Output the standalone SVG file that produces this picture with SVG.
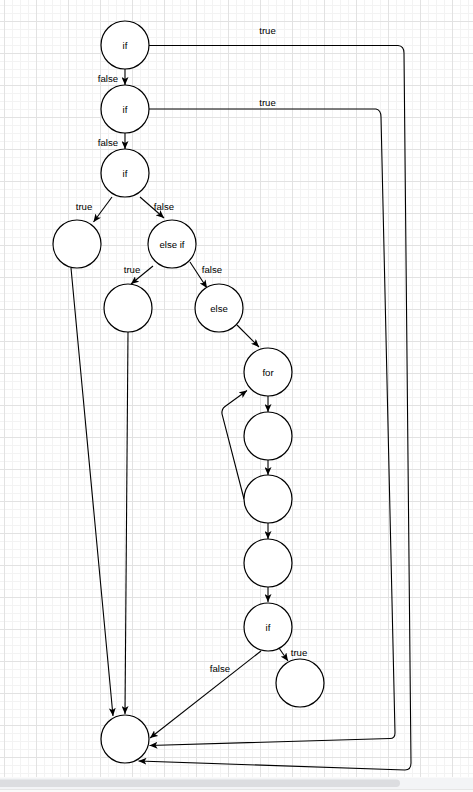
<svg xmlns="http://www.w3.org/2000/svg" width="473" height="792" viewBox="0 0 473 792">
<style>
.n{fill:#fff;stroke:#000;stroke-width:1.2}
.t{font-family:"Liberation Sans",Arial,sans-serif;font-size:9.6px;fill:#000;text-anchor:middle}
.e{fill:none;stroke:#000;stroke-width:1.1;marker-end:url(#a)}
</style>
<defs>
<marker id="a" markerWidth="9" markerHeight="7" refX="8" refY="3.5" orient="auto" markerUnits="userSpaceOnUse">
<path d="M0,0 L8,3.5 L0,7 L2,3.5 Z" fill="#000"/>
</marker>
<pattern id="g" x="4" y="21" width="32" height="32" patternUnits="userSpaceOnUse">
<path d="M8.5,0V32M16.5,0V32M24.5,0V32M0,8.5H32M0,16.5H32M0,24.5H32" stroke="#f3f3f3" stroke-width="1"/>
<path d="M0.5,0V32M0,0.5H32" stroke="#e2e2e2" stroke-width="1"/>
</pattern>
</defs>
<rect x="0" y="0" width="473" height="777" fill="#fff"/>
<rect x="0" y="0" width="473" height="777" fill="url(#g)"/>
<rect x="0" y="777" width="473" height="15" fill="#fafafa"/>
<rect x="0" y="778" width="473" height="11" fill="#f3f4f6"/>
<rect x="0" y="789" width="473" height="1" fill="#e6e6e6"/>
<rect x="-4" y="779.5" width="404" height="7.5" rx="3.7" fill="#dcdde0"/>

<g id="connectors">
<path class="e" d="M125,69 L125,85"/>
<path class="e" d="M125,133 L125,149"/>
<path class="e" d="M112,197 L93.5,222"/>
<path class="e" d="M140,197 L164,218"/>
<path class="e" d="M153,266 L131,284"/>
<path class="e" d="M190,262 L207,288"/>
<path class="e" d="M237,325 L259,347"/>
<path class="e" d="M268,396 L268,412"/>
<path class="e" d="M268,460 L268,475"/>
<path class="e" d="M244,499 L222,414 Q221.5,409 225,406.5 L247,390.5"/>
<path class="e" d="M268,523 L268,539"/>
<path class="e" d="M268,587 L268,602"/>
<path class="e" d="M279,648 L288,661"/>
<path class="e" d="M261,651 L150,738"/>
<path class="e" d="M71,268 L113,716"/>
<path class="e" d="M128,332 L125,714"/>
<path class="e" d="M149,45.5 L398,45.5 Q404,46 404,53 L411,763 Q411,770 405,770 L138.5,761"/>
<path class="e" d="M149,109 L376,109 Q381,110 381,117 L395,733 Q395,738.5 390,738.5 L149.5,745.5"/>
<text class="t" x="267.5" y="33.5">true</text>
<text class="t" x="267.5" y="105.5">true</text>
<text class="t" x="108" y="81.5">false</text>
<text class="t" x="108" y="145.5">false</text>
<text class="t" x="84" y="209.5">true</text>
<text class="t" x="164" y="209.5">false</text>
<text class="t" x="132" y="272.5">true</text>
<text class="t" x="212" y="272.5">false</text>
<text class="t" x="299" y="655.5">true</text>
<text class="t" x="220" y="671.5">false</text>
</g>

<g id="if1"><circle class="n" cx="125" cy="45" r="24"/><text class="t" x="125" y="48.5">if</text></g>
<g id="if2"><circle class="n" cx="125" cy="109" r="24"/><text class="t" x="125" y="112.5">if</text></g>
<g id="if3"><circle class="n" cx="125" cy="173" r="24"/><text class="t" x="125" y="176.5">if</text></g>
<g id="n_true1"><circle class="n" cx="77" cy="244" r="24"/></g>
<g id="elseif"><circle class="n" cx="172" cy="244" r="24"/><text class="t" x="172" y="247.5">else if</text></g>
<g id="n_true2"><circle class="n" cx="128" cy="308" r="24"/></g>
<g id="else"><circle class="n" cx="219" cy="308" r="24"/><text class="t" x="219" y="311.5">else</text></g>
<g id="for"><circle class="n" cx="268" cy="372" r="24"/><text class="t" x="268" y="375.5">for</text></g>
<g id="n_loop1"><circle class="n" cx="268" cy="436" r="24"/></g>
<g id="n_loop2"><circle class="n" cx="268" cy="499" r="24"/></g>
<g id="n_after"><circle class="n" cx="268" cy="563" r="24"/></g>
<g id="if4"><circle class="n" cx="268" cy="627" r="24"/><text class="t" x="268" y="630.5">if</text></g>
<g id="n_true3"><circle class="n" cx="300" cy="683" r="24"/></g>
<g id="end"><circle class="n" cx="125" cy="739" r="24"/></g>
</svg>
